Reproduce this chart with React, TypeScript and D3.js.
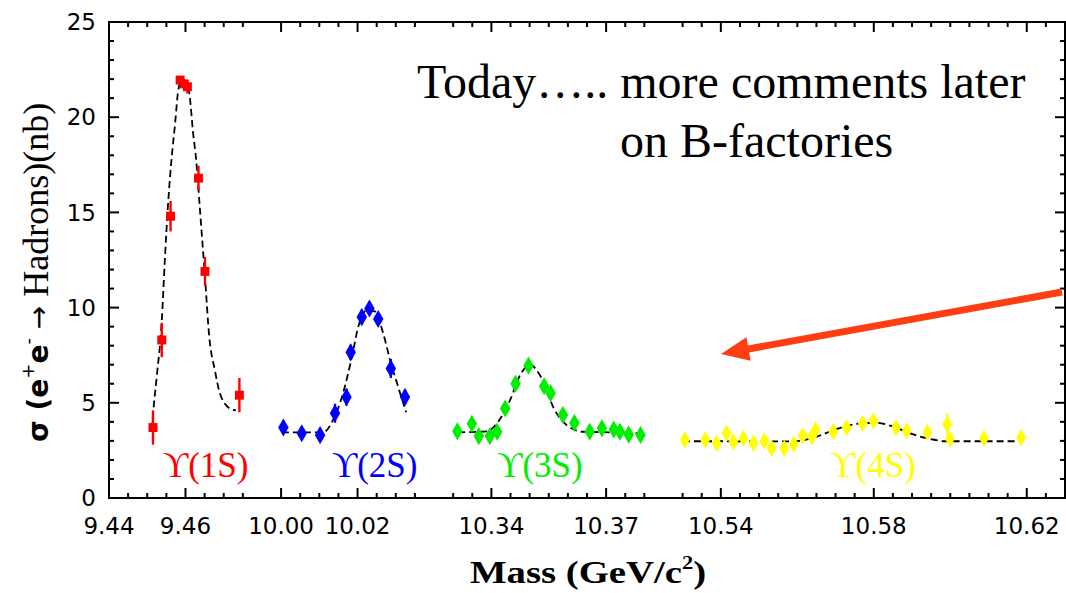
import React from 'react';
import * as d3 from 'd3';

const W = 1066;
const H = 593;
const plot = { left: 109, right: 1065, top: 22, bottom: 498 };

// broken mass axis, four windows (GeV/c^2)
const massWindows: [number, number][] = [[9.44, 9.48], [9.995, 10.04], [10.325, 10.385], [10.525, 10.63]];
const massTickLabels = [9.44, 9.46, 10.0, 10.02, 10.34, 10.37, 10.54, 10.58, 10.62];
const sigmaTickLabels = [0, 5, 10, 15, 20, 25];

// Upsilon(1S)
const mass1S = [9.4515, 9.4538, 9.4561, 9.4586, 9.4596, 9.4605, 9.4634, 9.4651, 9.4741];
const sigma1S = [3.7, 8.3, 14.8, 21.95, 21.75, 21.6, 16.8, 11.9, 5.4];
const err1S = [0.9, 0.9, 0.8, 0.2, 0.2, 0.35, 0.65, 0.75, 0.9];
const fitMass1S = [9.4512, 9.4516, 9.4525, 9.4538, 9.4546, 9.4555, 9.4564, 9.4573, 9.4581, 9.4591, 9.4599, 9.461, 9.462, 9.4628, 9.4638, 9.4651, 9.4662, 9.4677, 9.469, 9.4716, 9.4732];
const fitSigma1S = [3.6, 4.6, 6.4, 9.3, 12.5, 15.6, 17.9, 19.7, 21.4, 22.0, 21.9, 21.25, 19.15, 17.75, 15.1, 11.6, 8.5, 6.7, 5.5, 4.7, 4.6];

// Upsilon(2S)
const mass2S = [10.0006, 10.0054, 10.0102, 10.0141, 10.0171, 10.0182, 10.0211, 10.0231, 10.0254, 10.0287, 10.0324];
const sigma2S = [3.7, 3.4, 3.3, 4.45, 5.3, 7.65, 9.5, 9.95, 9.4, 6.8, 5.3];
const err2S = [0.35, 0.2, 0.3, 0.5, 0.45, 0.4, 0.4, 0.2, 0.25, 0.5, 0.4];
const fitMass2S = [10.0002, 10.0049, 10.011, 10.0136, 10.0162, 10.0185, 10.0202, 10.0224, 10.0245, 10.0267, 10.0285, 10.0306, 10.0327];
const fitSigma2S = [3.45, 3.45, 3.45, 4.1, 5.5, 7.4, 9.0, 9.87, 9.8, 8.65, 7.25, 5.85, 4.5];

// Upsilon(3S)
const mass3S = [10.3311, 10.3349, 10.3367, 10.3396, 10.3415, 10.3436, 10.3463, 10.3497, 10.3538, 10.3555, 10.3587, 10.3617, 10.3657, 10.3689, 10.372, 10.3736, 10.3759, 10.379];
const sigma3S = [3.5, 3.9, 3.25, 3.25, 3.48, 4.7, 6.0, 6.95, 5.87, 5.5, 4.36, 3.94, 3.48, 3.66, 3.6, 3.48, 3.33, 3.31];
const err3S = [0.3, 0.35, 0.35, 0.3, 0.35, 0.3, 0.3, 0.2, 0.3, 0.35, 0.3, 0.35, 0.3, 0.25, 0.25, 0.2, 0.2, 0.25];
const fitMass3S = [10.3313, 10.3388, 10.3421, 10.3449, 10.3475, 10.3501, 10.3527, 10.3566, 10.361, 10.364, 10.371, 10.3789];
const fitSigma3S = [3.45, 3.5, 4.1, 5.15, 6.45, 7.0, 6.45, 4.6, 3.65, 3.48, 3.45, 3.4];

// Upsilon(4S)
const mass4S = [10.5306, 10.5359, 10.5389, 10.5415, 10.5433, 10.5459, 10.5485, 10.5514, 10.5533, 10.5566, 10.5591, 10.5614, 10.5638, 10.5648, 10.5694, 10.5729, 10.5771, 10.5799, 10.5858, 10.5886, 10.594, 10.5992, 10.5999, 10.6088, 10.6185];
const sigma4S = [3.05, 3.05, 2.87, 3.4, 2.95, 3.14, 2.87, 2.99, 2.61, 2.61, 2.82, 3.27, 3.22, 3.57, 3.48, 3.7, 3.92, 4.04, 3.69, 3.52, 3.45, 3.87, 3.1, 3.13, 3.17];
const err4S = [0.15, 0.15, 0.15, 0.15, 0.15, 0.15, 0.15, 0.15, 0.15, 0.15, 0.15, 0.15, 0.15, 0.2, 0.15, 0.15, 0.15, 0.15, 0.15, 0.15, 0.15, 0.55, 0.15, 0.15, 0.15];
const fitMass4S = [10.5301, 10.5398, 10.5502, 10.5594, 10.5647, 10.5699, 10.5751, 10.5804, 10.5851, 10.5901, 10.5948, 10.5987, 10.6189];
const fitSigma4S = [2.98, 2.98, 2.97, 2.98, 3.2, 3.6, 3.88, 3.95, 3.75, 3.35, 3.1, 2.98, 2.98];

const resonanceNames = ['1S', '2S', '3S', '4S'];
const resonanceColors = ['#ff0000', '#0000ff', '#00ee00', '#ffff00'];
const labelMass = [9.4541, 10.0133, 10.3415, 10.5686];
const labelSigma = 1.1;

// one linear scale per window, widths proportional to the mass span
const totalSpan = d3.sum(massWindows, (w) => w[1] - w[0]);
const windowScales = (() => {
  let acc = plot.left;
  return massWindows.map((w) => {
    const width = ((w[1] - w[0]) / totalSpan) * (plot.right - plot.left);
    const s = d3.scaleLinear().domain(w).range([acc, acc + width]);
    acc += width;
    return s;
  });
})();
const x = (m: number) => {
  const s = windowScales.find((sc) => m >= sc.domain()[0] - 1e-9 && m <= sc.domain()[1] + 1e-9) || windowScales[windowScales.length - 1];
  return s(m);
};
const y = d3.scaleLinear().domain([0, 25]).range([plot.bottom, plot.top]);

// minor ticks every 5 MeV inside each window
const massTicks: { m: number; major: boolean }[] = [];
massWindows.forEach(([a, b]) => {
  const n = Math.round((b - a) / 0.005);
  for (let i = 1; i < n; i++) {
    const m = a + i * 0.005;
    massTicks.push({ m, major: massTickLabels.some((t) => Math.abs(t - m) < 1e-6) });
  }
});
const sigmaTicks = d3.range(1, 25);

const series = [
  { mass: mass1S, sigma: sigma1S, err: err1S, fitMass: fitMass1S, fitSigma: fitSigma1S, symbol: d3.symbolSquare, size: 80 },
  { mass: mass2S, sigma: sigma2S, err: err2S, fitMass: fitMass2S, fitSigma: fitSigma2S, symbol: d3.symbolDiamond, size: 95 },
  { mass: mass3S, sigma: sigma3S, err: err3S, fitMass: fitMass3S, fitSigma: fitSigma3S, symbol: d3.symbolDiamond, size: 95 },
  { mass: mass4S, sigma: sigma4S, err: err4S, fitMass: fitMass4S, fitSigma: fitSigma4S, symbol: d3.symbolDiamond, size: 85 },
];

const fitLine = d3.line<[number, number]>()
  .x((d) => x(d[0]))
  .y((d) => y(d[1]))
  .curve(d3.curveMonotoneX);

// arrow annotation (pixels)
const arrowFrom = [1062, 292];
const arrowTip = [721, 354];

function Arrow() {
  const dx = arrowTip[0] - arrowFrom[0];
  const dy = arrowTip[1] - arrowFrom[1];
  const len = Math.hypot(dx, dy);
  const ux = dx / len, uy = dy / len;
  const headLen = 28, half = 12;
  const bx = arrowTip[0] - ux * headLen, by = arrowTip[1] - uy * headLen;
  const pts = [
    [arrowTip[0], arrowTip[1]],
    [bx - uy * half, by + ux * half],
    [bx + uy * half, by - ux * half],
  ];
  return (
    <g>
      <line x1={arrowFrom[0]} y1={arrowFrom[1]} x2={bx + ux * 3} y2={by + uy * 3} stroke="#ff3f12" strokeWidth={7} />
      <polygon points={pts.map((p) => p.join(',')).join(' ')} fill="#ff3f12" />
    </g>
  );
}

export default function App() {
  const tickFont = "'DejaVu Sans', sans-serif";
  const serif = "'Liberation Serif', 'Times New Roman', serif";
  return (
    <svg width={W} height={H} style={{ position: 'absolute', left: 0, top: 0, background: '#fff' }}>
      {/* fits and data */}
      {series.map((s, i) => (
        <g key={'s' + i}>
          <path
            d={fitLine(s.fitMass.map((m, j) => [m, s.fitSigma[j]] as [number, number])) || ''}
            fill="none" stroke="#000" strokeWidth={1.8} strokeDasharray="7,4"
          />
          {s.mass.map((m, j) => (
            <g key={j}>
              <line x1={x(m)} x2={x(m)} y1={y(s.sigma[j] - s.err[j])} y2={y(s.sigma[j] + s.err[j])}
                stroke={resonanceColors[i]} strokeWidth={2.4} />
              <path transform={`translate(${x(m)},${y(s.sigma[j])})`}
                d={d3.symbol().type(s.symbol).size(s.size)() || ''} fill={resonanceColors[i]} />
            </g>
          ))}
          <text x={x(labelMass[i])} y={y(labelSigma)} fill={resonanceColors[i]} fontFamily={serif} fontSize={35}>
            {'ϒ(' + resonanceNames[i] + ')'}
          </text>
        </g>
      ))}

      {/* frame */}
      <rect x={plot.left} y={plot.top} width={plot.right - plot.left} height={plot.bottom - plot.top}
        fill="none" stroke="#000" strokeWidth={2} />

      {/* x ticks bottom and top */}
      {massTicks.map((t, i) => {
        const len = t.major ? 10 : 5;
        return (
          <g key={'xt' + i} stroke="#000" strokeWidth={2}>
            <line x1={x(t.m)} x2={x(t.m)} y1={plot.bottom} y2={plot.bottom - len} />
            <line x1={x(t.m)} x2={x(t.m)} y1={plot.top} y2={plot.top + len} />
          </g>
        );
      })}
      {massTickLabels.map((m, i) => (
        <text key={'xl' + i} x={x(m)} y={534} textAnchor="middle" fontFamily={tickFont} fontSize={23}>
          {m.toFixed(2)}
        </text>
      ))}

      {/* y ticks left and right */}
      {sigmaTicks.map((v) => {
        const len = v % 5 === 0 ? 10 : 5;
        return (
          <g key={'yt' + v} stroke="#000" strokeWidth={2}>
            <line x1={plot.left} x2={plot.left + len} y1={y(v)} y2={y(v)} />
            <line x1={plot.right} x2={plot.right - len} y1={y(v)} y2={y(v)} />
          </g>
        );
      })}
      {sigmaTickLabels.map((v) => (
        <text key={'yl' + v} x={96} y={y(v)} dy="0.36em" textAnchor="end" fontFamily={tickFont} fontSize={23}>
          {v}
        </text>
      ))}

      {/* axis titles */}
      <text transform="translate(470,583) scale(1.25,1)" fontFamily={serif} fontWeight="bold" fontSize={31}>
        Mass (GeV/c<tspan fontSize={18} dy={-14}>2</tspan><tspan dy={14}>)</tspan>
      </text>
      <text transform="translate(48,442) rotate(-90)">
        <tspan fontFamily="'DejaVu Sans', sans-serif" fontWeight="bold" fontSize={28}>σ (e</tspan>
        <tspan fontFamily="'DejaVu Sans', sans-serif" fontSize={18} dy={-14}>+</tspan>
        <tspan fontFamily="'DejaVu Sans', sans-serif" fontWeight="bold" fontSize={28} dy={14}>e</tspan>
        <tspan fontFamily="'DejaVu Sans', sans-serif" fontSize={18} dy={-14}>-</tspan>
        <tspan fontFamily="'DejaVu Sans', sans-serif" fontSize={28} dy={14}> → </tspan>
        <tspan fontFamily={serif} fontSize={36}>Hadrons)(nb)</tspan>
      </text>

      {/* annotation */}
      <text x={417} y={98} fontFamily={serif} fontSize={48}>Today….. more comments later</text>
      <text x={620} y={157} fontFamily={serif} fontSize={48}>on B-factories</text>
      <Arrow />
    </svg>
  );
}
